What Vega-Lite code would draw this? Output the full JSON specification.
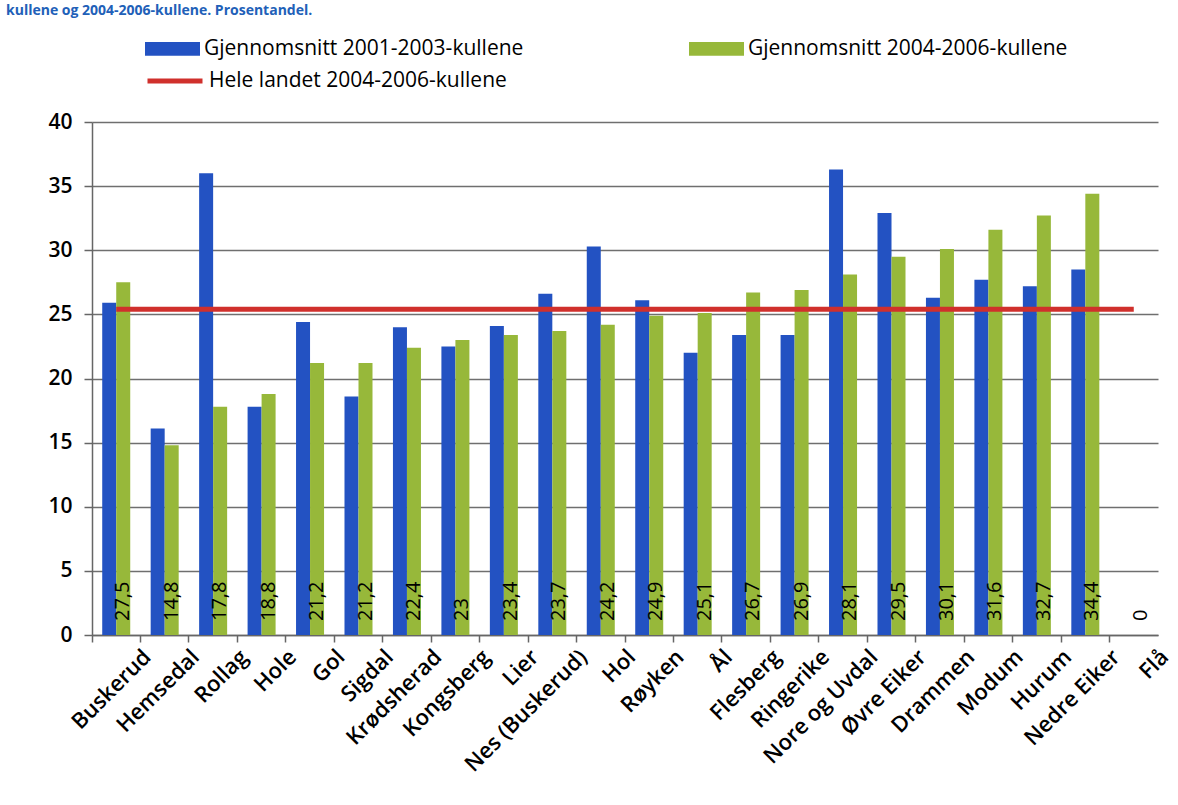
{
  "$schema": "https://vega.github.io/schema/vega-lite/v6.json",
  "width": 1066,
  "height": 513,
  "autosize": {"type": "none"},
  "padding": {"left": 92, "top": 122, "right": 20, "bottom": 170},
  "background": "white",
  "config": {
    "locale": {"number": {"decimal": ",", "thousands": " ", "grouping": [3], "currency": ["", " kr"]}},
    "view": {"stroke": null},
    "font": "Open Sans"
  },
  "title": {
    "text": "kullene og 2004-2006-kullene. Prosentandel.",
    "anchor": "start",
    "frame": "group",
    "dx": -86,
    "offset": -8,
    "baseline": "alphabetic",
    "fontSize": 14,
    "fontWeight": "bold",
    "color": "#2160b8",
    "font": "Open Sans"
  },
  "data": {
    "values": [
      {"kommune": "Buskerud", "serie": "Gjennomsnitt 2001-2003-kullene", "verdi": 25.9},
      {"kommune": "Hemsedal", "serie": "Gjennomsnitt 2001-2003-kullene", "verdi": 16.1},
      {"kommune": "Rollag", "serie": "Gjennomsnitt 2001-2003-kullene", "verdi": 36.0},
      {"kommune": "Hole", "serie": "Gjennomsnitt 2001-2003-kullene", "verdi": 17.8},
      {"kommune": "Gol", "serie": "Gjennomsnitt 2001-2003-kullene", "verdi": 24.4},
      {"kommune": "Sigdal", "serie": "Gjennomsnitt 2001-2003-kullene", "verdi": 18.6},
      {"kommune": "Krødsherad", "serie": "Gjennomsnitt 2001-2003-kullene", "verdi": 24.0},
      {"kommune": "Kongsberg", "serie": "Gjennomsnitt 2001-2003-kullene", "verdi": 22.5},
      {"kommune": "Lier", "serie": "Gjennomsnitt 2001-2003-kullene", "verdi": 24.1},
      {"kommune": "Nes (Buskerud)", "serie": "Gjennomsnitt 2001-2003-kullene", "verdi": 26.6},
      {"kommune": "Hol", "serie": "Gjennomsnitt 2001-2003-kullene", "verdi": 30.3},
      {"kommune": "Røyken", "serie": "Gjennomsnitt 2001-2003-kullene", "verdi": 26.1},
      {"kommune": "Ål", "serie": "Gjennomsnitt 2001-2003-kullene", "verdi": 22.0},
      {"kommune": "Flesberg", "serie": "Gjennomsnitt 2001-2003-kullene", "verdi": 23.4},
      {"kommune": "Ringerike", "serie": "Gjennomsnitt 2001-2003-kullene", "verdi": 23.4},
      {"kommune": "Nore og Uvdal", "serie": "Gjennomsnitt 2001-2003-kullene", "verdi": 36.3},
      {"kommune": "Øvre Eiker", "serie": "Gjennomsnitt 2001-2003-kullene", "verdi": 32.9},
      {"kommune": "Drammen", "serie": "Gjennomsnitt 2001-2003-kullene", "verdi": 26.3},
      {"kommune": "Modum", "serie": "Gjennomsnitt 2001-2003-kullene", "verdi": 27.7},
      {"kommune": "Hurum", "serie": "Gjennomsnitt 2001-2003-kullene", "verdi": 27.2},
      {"kommune": "Nedre Eiker", "serie": "Gjennomsnitt 2001-2003-kullene", "verdi": 28.5},
      {"kommune": "Flå", "serie": "Gjennomsnitt 2001-2003-kullene", "verdi": 0},
      {"kommune": "Buskerud", "serie": "Gjennomsnitt  2004-2006-kullene", "verdi": 27.5},
      {"kommune": "Hemsedal", "serie": "Gjennomsnitt  2004-2006-kullene", "verdi": 14.8},
      {"kommune": "Rollag", "serie": "Gjennomsnitt  2004-2006-kullene", "verdi": 17.8},
      {"kommune": "Hole", "serie": "Gjennomsnitt  2004-2006-kullene", "verdi": 18.8},
      {"kommune": "Gol", "serie": "Gjennomsnitt  2004-2006-kullene", "verdi": 21.2},
      {"kommune": "Sigdal", "serie": "Gjennomsnitt  2004-2006-kullene", "verdi": 21.2},
      {"kommune": "Krødsherad", "serie": "Gjennomsnitt  2004-2006-kullene", "verdi": 22.4},
      {"kommune": "Kongsberg", "serie": "Gjennomsnitt  2004-2006-kullene", "verdi": 23},
      {"kommune": "Lier", "serie": "Gjennomsnitt  2004-2006-kullene", "verdi": 23.4},
      {"kommune": "Nes (Buskerud)", "serie": "Gjennomsnitt  2004-2006-kullene", "verdi": 23.7},
      {"kommune": "Hol", "serie": "Gjennomsnitt  2004-2006-kullene", "verdi": 24.2},
      {"kommune": "Røyken", "serie": "Gjennomsnitt  2004-2006-kullene", "verdi": 24.9},
      {"kommune": "Ål", "serie": "Gjennomsnitt  2004-2006-kullene", "verdi": 25.1},
      {"kommune": "Flesberg", "serie": "Gjennomsnitt  2004-2006-kullene", "verdi": 26.7},
      {"kommune": "Ringerike", "serie": "Gjennomsnitt  2004-2006-kullene", "verdi": 26.9},
      {"kommune": "Nore og Uvdal", "serie": "Gjennomsnitt  2004-2006-kullene", "verdi": 28.1},
      {"kommune": "Øvre Eiker", "serie": "Gjennomsnitt  2004-2006-kullene", "verdi": 29.5},
      {"kommune": "Drammen", "serie": "Gjennomsnitt  2004-2006-kullene", "verdi": 30.1},
      {"kommune": "Modum", "serie": "Gjennomsnitt  2004-2006-kullene", "verdi": 31.6},
      {"kommune": "Hurum", "serie": "Gjennomsnitt  2004-2006-kullene", "verdi": 32.7},
      {"kommune": "Nedre Eiker", "serie": "Gjennomsnitt  2004-2006-kullene", "verdi": 34.4},
      {"kommune": "Flå", "serie": "Gjennomsnitt  2004-2006-kullene", "verdi": 0},
      {"kommune": "Buskerud", "serie": "Hele landet 2004-2006-kullene", "verdi": 25.4},
      {"kommune": "Hemsedal", "serie": "Hele landet 2004-2006-kullene", "verdi": 25.4},
      {"kommune": "Rollag", "serie": "Hele landet 2004-2006-kullene", "verdi": 25.4},
      {"kommune": "Hole", "serie": "Hele landet 2004-2006-kullene", "verdi": 25.4},
      {"kommune": "Gol", "serie": "Hele landet 2004-2006-kullene", "verdi": 25.4},
      {"kommune": "Sigdal", "serie": "Hele landet 2004-2006-kullene", "verdi": 25.4},
      {"kommune": "Krødsherad", "serie": "Hele landet 2004-2006-kullene", "verdi": 25.4},
      {"kommune": "Kongsberg", "serie": "Hele landet 2004-2006-kullene", "verdi": 25.4},
      {"kommune": "Lier", "serie": "Hele landet 2004-2006-kullene", "verdi": 25.4},
      {"kommune": "Nes (Buskerud)", "serie": "Hele landet 2004-2006-kullene", "verdi": 25.4},
      {"kommune": "Hol", "serie": "Hele landet 2004-2006-kullene", "verdi": 25.4},
      {"kommune": "Røyken", "serie": "Hele landet 2004-2006-kullene", "verdi": 25.4},
      {"kommune": "Ål", "serie": "Hele landet 2004-2006-kullene", "verdi": 25.4},
      {"kommune": "Flesberg", "serie": "Hele landet 2004-2006-kullene", "verdi": 25.4},
      {"kommune": "Ringerike", "serie": "Hele landet 2004-2006-kullene", "verdi": 25.4},
      {"kommune": "Nore og Uvdal", "serie": "Hele landet 2004-2006-kullene", "verdi": 25.4},
      {"kommune": "Øvre Eiker", "serie": "Hele landet 2004-2006-kullene", "verdi": 25.4},
      {"kommune": "Drammen", "serie": "Hele landet 2004-2006-kullene", "verdi": 25.4},
      {"kommune": "Modum", "serie": "Hele landet 2004-2006-kullene", "verdi": 25.4},
      {"kommune": "Hurum", "serie": "Hele landet 2004-2006-kullene", "verdi": 25.4},
      {"kommune": "Nedre Eiker", "serie": "Hele landet 2004-2006-kullene", "verdi": 25.4},
      {"kommune": "Flå", "serie": "Hele landet 2004-2006-kullene", "verdi": 25.4}
    ]
  },
  "layer": [
    {
      "transform": [{"filter": "datum.serie != 'Hele landet 2004-2006-kullene'"}],
      "mark": {"type": "bar"},
      "encoding": {
        "x": {
          "field": "kommune", "type": "nominal", "sort": null, "title": null,
          "scale": {"paddingInner": 0, "paddingOuter": 0},
          "axis": {
            "bandPosition": 0, "labelOffset": 24, "labelAngle": -45,
            "labelAlign": "right", "labelBaseline": "top",
            "labelFontSize": 22, "labelFontWeight": 600, "labelColor": "black",
            "labelFont": "Open Sans", "labelPadding": 4,
            "tickSize": 7, "tickColor": "#666", "tickWidth": 1.5,
            "domainColor": "#666", "domainWidth": 1.5, "grid": false
          }
        },
        "xOffset": {
          "field": "serie", "type": "nominal",
          "scale": {"domain": ["Gjennomsnitt 2001-2003-kullene", "Gjennomsnitt  2004-2006-kullene"], "paddingInner": 0, "paddingOuter": 0.73}
        },
        "y": {
          "field": "verdi", "type": "quantitative", "title": null,
          "scale": {"domain": [0, 40], "nice": false},
          "axis": {
            "values": [0, 5, 10, 15, 20, 25, 30, 35, 40],
            "labelFontSize": 21, "labelFontWeight": 600, "labelColor": "black",
            "labelFont": "Open Sans", "labelPadding": 12,
            "tickSize": 8, "tickColor": "#666", "tickWidth": 1.5,
            "domainColor": "#666", "domainWidth": 1.5,
            "gridColor": "#6f6f6f", "gridWidth": 1.5
          }
        },
        "color": {
          "field": "serie", "type": "nominal",
          "scale": {"domain": ["Gjennomsnitt 2001-2003-kullene", "Gjennomsnitt  2004-2006-kullene"], "range": ["#2352c2", "#97b83a"]},
          "legend": {
            "orient": "none", "legendX": 53, "legendY": -101, "direction": "horizontal",
            "columns": 2, "columnPadding": 165, "title": null, "padding": 0,
            "symbolType": "M-1,-0.25H1V0.25H-1Z", "symbolSize": 3025,
            "symbolStrokeWidth": 0, "symbolOpacity": 1,
            "labelFontSize": 21, "labelFont": "Open Sans", "labelColor": "black",
            "labelLimit": 700, "labelOffset": 4
          }
        }
      }
    },
    {
      "transform": [{"filter": "datum.serie == 'Gjennomsnitt  2004-2006-kullene'"}],
      "mark": {"type": "text", "angle": 270, "align": "left", "baseline": "middle", "dx": 14, "fontSize": 20, "font": "Open Sans", "color": "black"},
      "encoding": {
        "x": {"field": "kommune", "type": "nominal", "sort": null},
        "xOffset": {"field": "serie", "type": "nominal"},
        "y": {"datum": 0, "type": "quantitative"},
        "text": {"field": "verdi", "type": "quantitative", "format": ".1~f"}
      }
    },
    {
      "transform": [{"filter": "datum.serie == 'Hele landet 2004-2006-kullene'"}],
      "mark": {"type": "line", "strokeWidth": 5},
      "encoding": {
        "x": {"field": "kommune", "type": "nominal", "sort": null},
        "y": {"field": "verdi", "type": "quantitative"},
        "stroke": {
          "field": "serie", "type": "nominal",
          "scale": {"domain": ["Hele landet 2004-2006-kullene"], "range": ["#d0302c"]},
          "legend": {
            "orient": "none", "legendX": 53, "legendY": -71, "title": null, "padding": 0,
            "symbolType": "stroke", "symbolSize": 3025, "symbolStrokeWidth": 5,
            "labelFontSize": 21, "labelFont": "Open Sans", "labelColor": "black",
            "labelLimit": 700, "labelOffset": 4
          }
        }
      }
    }
  ]
}
